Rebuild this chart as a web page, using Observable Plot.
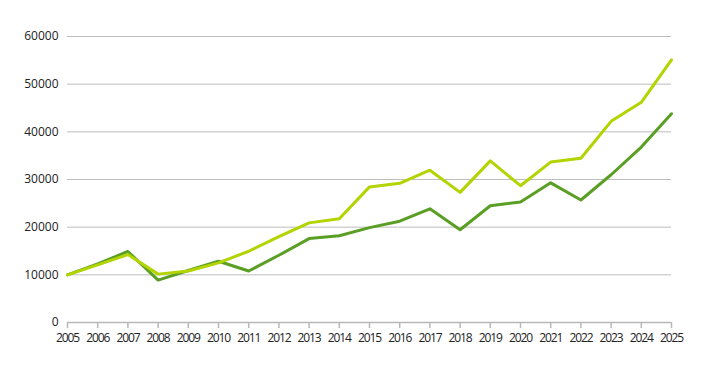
<!DOCTYPE html>
<html>
<head>
<meta charset="utf-8">
<script src="https://cdn.jsdelivr.net/npm/d3@7"></script>
<script src="https://cdn.jsdelivr.net/npm/@observablehq/plot@0.6"></script>
<style>
  html, body { margin: 0; padding: 0; background: #fff; }
  #chart svg { display: block; }
  .xax text { letter-spacing: -1.1px; }
</style>
</head>
<body>
<div id="chart"></div>
<script>
const years = [2005,2006,2007,2008,2009,2010,2011,2012,2013,2014,2015,2016,2017,2018,2019,2020,2021,2022,2023,2024,2025];
const darkSeries = [10000,12300,14900,8900,10900,12850,10800,14100,17600,18200,19900,21250,23850,19450,24500,25300,29300,25700,31000,36800,43800];
const lightSeries = [10000,12100,14250,10150,10800,12500,14950,18000,20900,21750,28450,29200,31950,27300,33900,28700,33650,34450,42200,46200,55100];
const yTicks = [0,10000,20000,30000,40000,50000,60000];

const data = [];
years.forEach((y, i) => {
  data.push({year: y, value: darkSeries[i], series: "dark"});
  data.push({year: y, value: lightSeries[i], series: "light"});
});

const chart = Plot.plot({
  width: 710,
  height: 367,
  marginLeft: 67,
  marginRight: 39,
  marginTop: 36,
  marginBottom: 45,
  style: {fontFamily: "'Open Sans', 'DejaVu Sans', sans-serif", fontSize: "12px", color: "#222", background: "#fff"},
  x: {domain: [2005, 2025], ticks: years, tickFormat: d => String(d), label: null},
  y: {domain: [0, 60000], ticks: yTicks, tickFormat: d => String(d), label: null},
  color: {domain: ["dark", "light"], range: ["#5a9f24", "#b3d400"]},
  marks: [
    Plot.gridY(yTicks.filter(d => d > 0), {stroke: "#bdbdbd", strokeOpacity: 1, strokeWidth: 1}),
    Plot.ruleY([0], {stroke: "#b8b8b8", strokeWidth: 1.5}),
    Plot.axisX({ticks: years, tickFormat: d => String(d), tickSize: 6, tickPadding: 5, stroke: "#b8b8b8", strokeWidth: 1.5, fontSize: 12, fill: "#222", label: null, className: "xax"}),
    Plot.axisY({ticks: yTicks, tickFormat: d => String(d), tickSize: 0, tickPadding: 9, fontSize: 12, fill: "#222", label: null}),
    Plot.line(data.filter(d => d.series === "dark"), {x: "year", y: "value", stroke: "series", strokeWidth: 3}),
    Plot.line(data.filter(d => d.series === "light"), {x: "year", y: "value", stroke: "series", strokeWidth: 3})
  ]
});
document.getElementById("chart").appendChild(chart);
</script>
</body>
</html>
